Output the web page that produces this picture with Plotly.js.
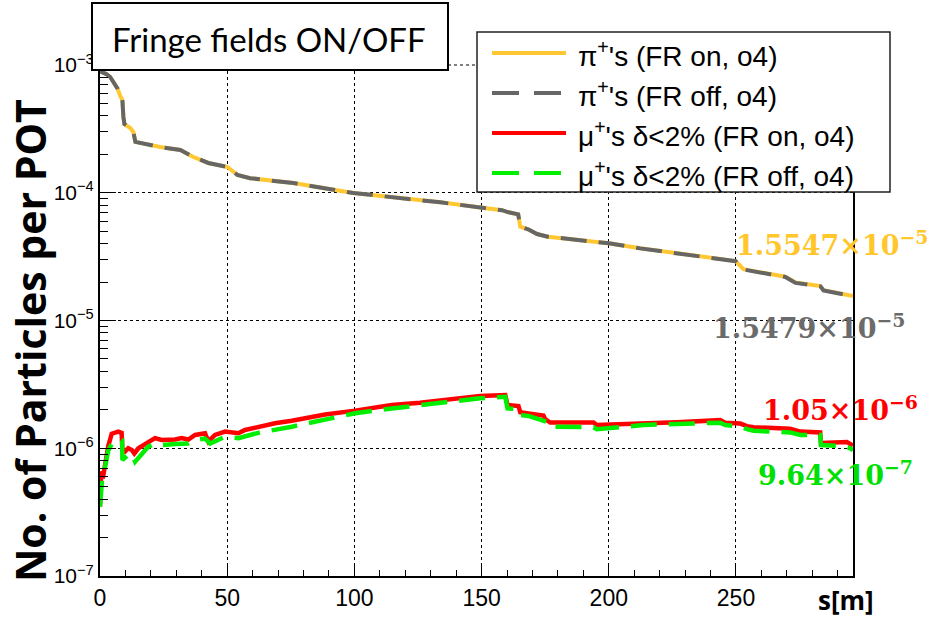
<!DOCTYPE html>
<html>
<head>
<meta charset="utf-8">
<script src="https://cdn.plot.ly/plotly-3.0.1.min.js"></script>
<style>html,body{margin:0;padding:0;background:#fff;}#chart{width:933px;height:620px;}</style>
</head>
<body>
<div id="chart"></div>
<script>
// ---- data (s in metres, particles per POT) ----
const piOnS = [0, 1.3, 2.5, 4.0, 5.5, 6.8, 8.0, 8.8, 9.2, 9.6, 11.9, 13.1, 13.9, 18, 23.7, 31.6, 36.7, 42.6, 50.1, 54.0, 59, 76, 99.6, 133.8, 150, 158, 160.6, 164.4, 165.2, 168.3, 171.8, 176, 200, 212.3, 249.9, 252.9, 269.4, 273.4, 283.2, 284.4, 296];
const piOnV = [8.9e-4, 8.7e-4, 8.5e-4, 8.05e-4, 7.2e-4, 6.6e-4, 5.7e-4, 5.32e-4, 3.92e-4, 3.45e-4, 3.21e-4, 2.99e-4, 2.50e-4, 2.4e-4, 2.28e-4, 2.16e-4, 1.905e-4, 1.71e-4, 1.59e-4, 1.38e-4, 1.3e-4, 1.19e-4, 9.95e-5, 8.41e-5, 7.69e-5, 7.3e-5, 7.03e-5, 6.78e-5, 5.42e-5, 5.17e-5, 4.75e-5, 4.53e-5, 4.02e-5, 3.68e-5, 2.92e-5, 2.52e-5, 2.20e-5, 1.98e-5, 1.86e-5, 1.73e-5, 1.5547e-5];
const piOffS = [0, 1.3, 2.5, 4.0, 5.5, 6.8, 8.0, 8.8, 9.2, 9.6, 11.9, 13.1, 13.9, 18, 23.7, 31.6, 36.7, 42.6, 50.1, 54.0, 59, 76, 99.6, 133.8, 150, 158, 160.6, 164.4, 165.2, 168.3, 171.8, 176, 200, 212.3, 249.9, 252.9, 269.4, 273.4, 283.2, 284.4, 296];
const piOffV = [8.9e-4, 8.7e-4, 8.5e-4, 8.05e-4, 7.2e-4, 6.6e-4, 5.7e-4, 5.32e-4, 3.92e-4, 3.45e-4, 3.21e-4, 2.99e-4, 2.50e-4, 2.4e-4, 2.28e-4, 2.16e-4, 1.905e-4, 1.71e-4, 1.59e-4, 1.38e-4, 1.3e-4, 1.19e-4, 9.95e-5, 8.41e-5, 7.69e-5, 7.3e-5, 7.03e-5, 6.78e-5, 5.42e-5, 5.17e-5, 4.75e-5, 4.53e-5, 4.02e-5, 3.67e-5, 2.91e-5, 2.51e-5, 2.19e-5, 1.97e-5, 1.85e-5, 1.72e-5, 1.5479e-5];

const muOnS = [0, 0.5, 1.1, 2.0, 3.3, 4.6, 6.0, 7.2, 8.5, 8.8, 9.8, 11.1, 12.5, 13.5, 15.1, 19, 21.6, 24.3, 29.5, 32.1, 34.7, 37.4, 41.3, 42.6, 45.2, 49.2, 54.4, 57, 64.9, 68.8, 75.4, 80.6, 88.5, 100.3, 108.1, 114.7, 125.8, 138.9, 149.4, 159.3, 160.2, 164.5, 165.2, 168.4, 171.7, 174.3, 175, 177, 183.5, 194, 195.3, 200.5, 204.5, 213.6, 226.8, 243.8, 245.8, 251.7, 254.3, 256.9, 263.5, 271.3, 275.3, 283.1, 283.4, 293.6, 296];
const muOnV = [3.5e-7, 6.6e-7, 5.8e-7, 7.8e-7, 1.05e-6, 1.3e-6, 1.34e-6, 1.35e-6, 1.32e-6, 9.7e-7, 9.4e-7, 1.0e-6, 9.7e-7, 9.1e-7, 1.0e-6, 1.125e-6, 1.2e-6, 1.16e-6, 1.17e-6, 1.2e-6, 1.17e-6, 1.27e-6, 1.31e-6, 1.13e-6, 1.27e-6, 1.35e-6, 1.31e-6, 1.39e-6, 1.52e-6, 1.57e-6, 1.64e-6, 1.71e-6, 1.84e-6, 1.97e-6, 2.08e-6, 2.18e-6, 2.27e-6, 2.43e-6, 2.57e-6, 2.61e-6, 2.18e-6, 2.14e-6, 1.91e-6, 1.87e-6, 1.82e-6, 1.80e-6, 1.69e-6, 1.59e-6, 1.59e-6, 1.59e-6, 1.52e-6, 1.53e-6, 1.56e-6, 1.585e-6, 1.6e-6, 1.66e-6, 1.585e-6, 1.56e-6, 1.49e-6, 1.46e-6, 1.44e-6, 1.42e-6, 1.35e-6, 1.33e-6, 1.10e-6, 1.12e-6, 1.05e-6];
const muOffS = [0, 0.9, 2.0, 3.3, 5.2, 6.2, 8.7, 8.8, 11.1, 12.5, 13.8, 15.1, 19, 21.6, 24.3, 29.5, 34.7, 37.4, 41.3, 43.3, 49.2, 54.4, 62.2, 75.4, 88.5, 100.3, 112.1, 125.8, 138.9, 149.4, 159.3, 160.2, 164.5, 165.2, 168.4, 171.7, 175.7, 177, 183.5, 194, 195.3, 204.5, 213.6, 226.8, 243.8, 245.8, 251.7, 254.3, 256.9, 263.5, 271.3, 275.3, 283.1, 283.4, 292.3, 294.9, 296];
const muOffV = [3.48e-7, 5.98e-7, 7.17e-7, 9.68e-7, 1.125e-6, 1.16e-6, 1.15e-6, 8.1e-7, 8.85e-7, 9.1e-7, 7.85e-7, 8.35e-7, 1.03e-6, 1.09e-6, 1.06e-6, 1.08e-6, 1.09e-6, 1.16e-6, 1.19e-6, 1.09e-6, 1.23e-6, 1.2e-6, 1.32e-6, 1.475e-6, 1.68e-6, 1.88e-6, 2.02e-6, 2.18e-6, 2.34e-6, 2.46e-6, 2.53e-6, 2.05e-6, 2.02e-6, 1.82e-6, 1.79e-6, 1.71e-6, 1.61e-6, 1.475e-6, 1.475e-6, 1.46e-6, 1.41e-6, 1.475e-6, 1.52e-6, 1.55e-6, 1.585e-6, 1.52e-6, 1.48e-6, 1.41e-6, 1.37e-6, 1.35e-6, 1.33e-6, 1.27e-6, 1.27e-6, 1.06e-6, 1.04e-6, 1.0e-6, 9.64e-7];

const seriesNames = ["π<sup>+</sup>'s (FR on, o4)", "π<sup>+</sup>'s (FR off, o4)", "μ<sup>+</sup>'s δ&lt;2% (FR on, o4)", "μ<sup>+</sup>'s δ&lt;2% (FR off, o4)"];
const endLabels = ["1.5547×10<sup>−5</sup>", "1.5479×10<sup>−5</sup>", "1.05×10<sup>−6</sup>", "9.64×10<sup>−7</sup>"];
const xTickVals = [0, 50, 100, 150, 200, 250];
const yTickVals = [1e-7, 1e-6, 1e-5, 1e-4, 1e-3];
const yTickText = ["10<sup>−7</sup>", "10<sup>−6</sup>", "10<sup>−5</sup>", "10<sup>−4</sup>", "10<sup>−3</sup>"];

// ---- styling ----
const colors = ["#FFC832", "#666666", "#FF0000", "#00EE00"];
const textColors = ["#FFC72C", "#6B6B6B", "#FF0000", "#00E000"];
const dashPat = "26px,12px";

const W = 933, H = 620, L = 100, R = 80, T = 65, B = 44;
const pw = W - L - R, ph = H - T - B;
const px = x => (x - L) / pw;
const py = y => (H - B - y) / ph;

const traces = [
  {x: piOnS, y: piOnV, name: seriesNames[0], mode: "lines", line: {color: colors[0], width: 4}},
  {x: piOffS, y: piOffV, name: seriesNames[1], mode: "lines", line: {color: colors[1], width: 4, dash: dashPat}},
  {x: muOnS, y: muOnV, name: seriesNames[2], mode: "lines", line: {color: colors[2], width: 4.5}},
  {x: muOffS, y: muOffV, name: seriesNames[3], mode: "lines", line: {color: colors[3], width: 4.5, dash: dashPat}}
];

const minorY = [];
for (let e = -7; e < -3; e++) for (let k = 2; k <= 9; k++) minorY.push(k * Math.pow(10, e));

const shapes = [
  // dotted top grid line at 1e-3
  {type: "line", xref: "paper", yref: "paper", x0: 0, x1: 1, y0: 1, y1: 1,
   line: {color: "black", width: 1, dash: "dot"}, layer: "below"},
  // title box
  {type: "rect", xref: "paper", yref: "paper", x0: px(92), x1: px(448), y0: py(70), y1: py(3),
   line: {color: "black", width: 2}, fillcolor: "white", layer: "above"},
  // legend box
  {type: "rect", xref: "paper", yref: "paper", x0: px(477), x1: px(890), y0: py(192), y1: py(32),
   line: {color: "#222", width: 1.5}, fillcolor: "white", layer: "above"}
];
const annotations = [
  {xref: "paper", yref: "paper", x: px(269), y: py(39), text: "Fringe fields ON/OFF", showarrow: false,
   xanchor: "center", yanchor: "middle", font: {family: "Lato", size: 33, color: "black"}},
  {xref: "paper", yref: "paper", x: px(30), y: py(341), text: "<b>No. of Particles per POT</b>", showarrow: false,
   textangle: -90, xanchor: "center", yanchor: "middle", font: {family: "Open Sans", size: 41, color: "black"}},
  {xref: "paper", yref: "paper", x: px(846), y: py(600), text: "<b>s[m]</b>", showarrow: false,
   xanchor: "center", yanchor: "middle", font: {family: "Open Sans", size: 26, color: "black"}}
];
const legendRows = [53, 93, 133, 173];
for (let i = 0; i < 4; i++) {
  shapes.push({type: "line", xref: "paper", yref: "paper", x0: px(492), x1: px(566), y0: py(legendRows[i]), y1: py(legendRows[i]),
    line: {color: colors[i], width: 4, dash: (i % 2 === 1) ? "27px,15px" : "solid"}, layer: "above"});
  annotations.push({xref: "paper", yref: "paper", x: px(576), y: py(legendRows[i] + 1), text: seriesNames[i], showarrow: false,
    xanchor: "left", yanchor: "middle", font: {family: "Liberation Sans", size: 28, color: "black"}});
}
const labelPos = [[734, 243], [711, 326], [761, 408], [756, 473]];
for (let i = 0; i < 4; i++) {
  annotations.push({xref: "paper", yref: "paper", x: px(labelPos[i][0]), y: py(labelPos[i][1]), text: "<b>" + endLabels[i] + "</b>",
    showarrow: false, xanchor: "left", yanchor: "middle", font: {family: "DejaVu Serif", size: 27, color: textColors[i]}});
}

const layout = {
  width: W, height: H,
  margin: {l: L, r: R, t: T, b: B, pad: 0},
  paper_bgcolor: "white", plot_bgcolor: "white",
  showlegend: false,
  xaxis: {
    range: [0, 296], tickvals: xTickVals, ticks: "inside", ticklen: 12, tickwidth: 1, tickcolor: "black",
    showline: true, linecolor: "black", linewidth: 2, mirror: false,
    showgrid: true, gridcolor: "black", gridwidth: 1, griddash: "dot", zeroline: false,
    tickfont: {family: "Liberation Sans", size: 23, color: "black"},
    minor: {dtick: 10, ticks: "inside", ticklen: 6, tickcolor: "black", showgrid: false}
  },
  yaxis: {
    type: "log", range: [-7, -3], tickmode: "array", tickvals: yTickVals, ticktext: yTickText,
    ticks: "inside", ticklen: 16, tickwidth: 1, tickcolor: "black",
    showline: true, linecolor: "black", linewidth: 2, mirror: true,
    showgrid: true, gridcolor: "black", gridwidth: 1, griddash: "dot", zeroline: false,
    tickfont: {family: "Liberation Sans", size: 21, color: "black"},
    minor: {tickmode: "array", tickvals: minorY, ticks: "inside", ticklen: 8, tickcolor: "black", showgrid: false}
  },
  shapes: shapes,
  annotations: annotations
};

Plotly.newPlot("chart", traces, layout, {displayModeBar: false, staticPlot: true});
</script>
</body>
</html>
